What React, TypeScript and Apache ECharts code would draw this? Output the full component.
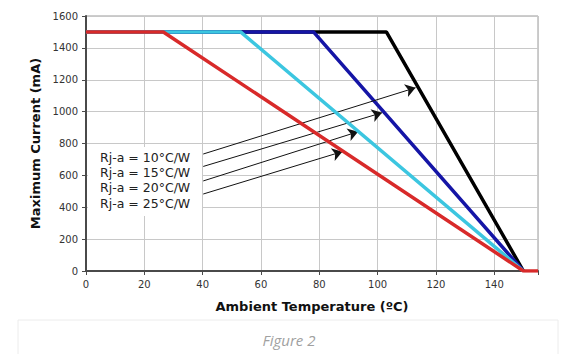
import React, { useEffect, useRef } from "react";
import * as echarts from "echarts";

const xTicks = [0, 20, 40, 60, 80, 100, 120, 140];
const seriesNames = ["Rj-a = 10°C/W", "Rj-a = 15°C/W", "Rj-a = 20°C/W", "Rj-a = 25°C/W"];
const seriesColors = ["#000000", "#1515a6", "#3cc6e0", "#d82a2a"];
const black10: [number, number][] = [[0, 1500], [103, 1500], [150, 0]];
const blue15: [number, number][] = [[0, 1500], [78, 1500], [150, 0]];
const cyan20: [number, number][] = [[0, 1500], [53, 1500], [150, 0]];
const red25: [number, number][] = [[0, 1500], [26.5, 1500], [150, 0], [155, 0]];
const arrowStarts: [number, number][] = [[40.2, 734], [40.2, 656], [40.2, 565], [40.2, 483]];
const arrowEnds: [number, number][] = [[113, 1150], [101.5, 993], [93.3, 874], [87.9, 749]];
const legendLines = ["Rj-a = 10°C/W", "Rj-a = 15°C/W", "Rj-a = 20°C/W", "Rj-a = 25°C/W"];

export default function App() {
  const ref = useRef<HTMLDivElement>(null);
  useEffect(() => {
    const chart = echarts.init(ref.current!, null, { renderer: "svg" });
    const data = [black10, blue15, cyan20, red25];
    const font = "'DejaVu Sans', Verdana, sans-serif";
    chart.setOption({
      animation: false,
      backgroundColor: "#ffffff",
      grid: {
        left: 86,
        right: 46,
        top: 16,
        bottom: 83,
        show: true,
        borderColor: "#9a9a9a",
        borderWidth: 1,
        backgroundColor: "transparent",
      },
      xAxis: {
        type: "value",
        min: 0,
        max: 155,
        interval: 20,
        name: "Ambient Temperature (ºC)",
        nameLocation: "middle",
        nameGap: 29,
        nameTextStyle: { fontFamily: font, fontSize: 13, fontWeight: "bold", color: "#111" },
        axisLine: { show: true, lineStyle: { color: "#4a4a4a", width: 2 } },
        axisTick: { show: true, length: 4, lineStyle: { color: "#4a4a4a" } },
        axisLabel: {
          fontFamily: font,
          fontSize: 10,
          color: "#333",
          margin: 8,
          formatter: (v: number) => (xTicks.includes(v) ? String(v) : ""),
        },
        splitLine: { show: true, lineStyle: { color: "#c8c8c8", width: 1 } },
      },
      yAxis: {
        type: "value",
        min: 0,
        max: 1600,
        interval: 200,
        name: "Maximum Current (mA)",
        nameLocation: "middle",
        nameGap: 34,
        nameTextStyle: { fontFamily: font, fontSize: 13, fontWeight: "bold", color: "#111" },
        axisLine: { show: true, lineStyle: { color: "#4a4a4a", width: 2 } },
        axisTick: { show: true, length: 4, lineStyle: { color: "#4a4a4a" } },
        axisLabel: {
          fontFamily: font,
          fontSize: 10,
          color: "#333",
          margin: 8,
          formatter: (v: number) => String(v),
        },
        splitLine: { show: true, lineStyle: { color: "#c8c8c8", width: 1 } },
      },
      graphic: [
        {
          type: "rect",
          z: 1,
          shape: { x: 88, y: 147, width: 114, height: 69 },
          style: { fill: "#ffffff" },
        },
        ...legendLines.map((t, i) => ({
          type: "text",
          z: 3,
          x: 100,
          y: 157 + i * 15.4,
          style: {
            text: t,
            fontFamily: font,
            fontSize: 12.5,
            fill: "#222",
            verticalAlign: "middle",
          },
        })),
        {
          type: "rect",
          z: 0,
          shape: { x: 18, y: 320, width: 540, height: 40 },
          style: { fill: "#ffffff", stroke: "#ececec", lineWidth: 1 },
        },
        {
          type: "text",
          z: 3,
          x: 289,
          y: 340,
          style: {
            text: "Figure 2",
            fontFamily: "'Open Sans', sans-serif",
            fontStyle: "italic",
            fontSize: 15,
            fill: "#a0a0a0",
            align: "center",
            verticalAlign: "middle",
          },
        },
      ],
      series: [
        ...data.map((d, i) => ({
          type: "line",
          name: seriesNames[i],
          data: d,
          symbol: "none",
          z: 3 + i,
          lineStyle: { color: seriesColors[i], width: 3.5 },
          itemStyle: { color: seriesColors[i] },
        })),
        {
          type: "line",
          data: [],
          z: 8,
          markLine: {
            silent: true,
            symbol: ["none", "arrow"],
            symbolSize: 10,
            label: { show: false },
            lineStyle: { color: "#111", width: 1, type: "solid" },
            data: arrowStarts.map((s, i) => [{ coord: s }, { coord: arrowEnds[i] }]),
          },
        },
      ],
    });
    return () => chart.dispose();
  }, []);
  return (
    <div
      ref={ref}
      style={{ position: "fixed", left: 0, top: 0, width: 584, height: 354 }}
    />
  );
}
